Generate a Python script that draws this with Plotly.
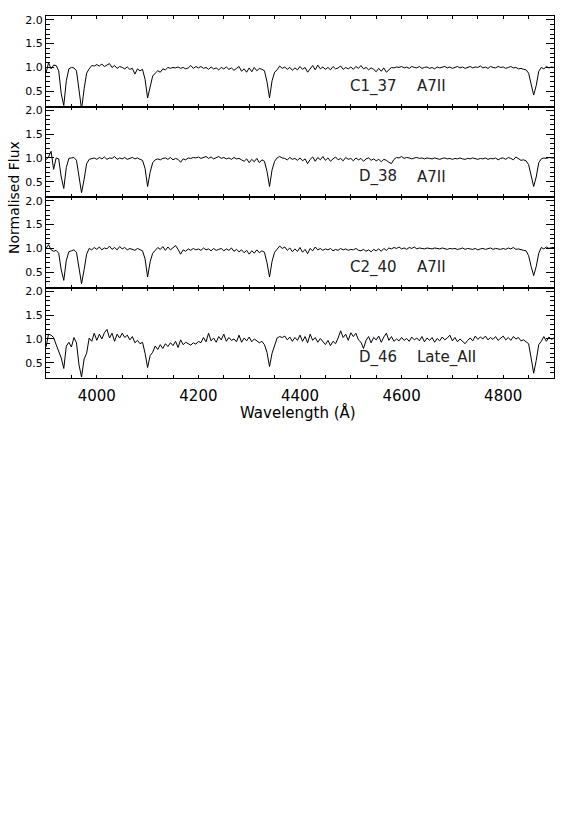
import plotly.graph_objects as go
from plotly.subplots import make_subplots

# wavelength grid (Angstrom), 5 A sampling
WAVE = list(range(3900, 4901, 5))

STARS = ["C1_37", "D_38", "C2_40", "D_46"]
TYPES = ["A7II", "A7II", "A7II", "Late_AII"]

FLUX_C1_37 = [
    0.88, 1.10, 0.97, 1.05, 1.04, 0.93, 0.45, 0.20, 0.72, 0.97,
    1.00, 0.99, 0.93, 0.50, 0.12, 0.55, 0.88, 0.97, 1.04, 1.03,
    1.06, 1.03, 1.07, 1.02, 1.05, 1.08, 1.00, 1.04, 0.98, 1.02,
    1.00, 0.97, 1.01, 0.96, 0.98, 0.86, 0.97, 0.93, 0.96, 0.75,
    0.36, 0.62, 0.82, 0.88, 0.93, 0.90, 0.97, 0.95, 1.00, 0.98,
    1.00, 0.99, 1.01, 0.98, 1.00, 0.97, 0.99, 1.04, 0.98, 1.02,
    0.99, 1.02, 0.98, 1.00, 0.96, 1.01, 0.97, 0.99, 0.95, 1.00,
    0.97, 1.01, 0.96, 0.99, 0.94, 0.98, 1.02, 0.92, 0.97, 0.90,
    0.99, 0.91, 1.00, 0.93, 0.98, 0.96, 0.93, 0.70, 0.36, 0.72,
    0.90, 0.95, 1.03, 0.98, 1.01, 0.96, 1.00, 0.94, 0.99, 0.95,
    1.02, 0.96, 1.00, 0.90, 0.98, 1.04, 0.95, 1.05, 0.97, 1.01,
    0.96, 1.00, 0.95, 1.02, 0.97, 0.99, 1.03, 0.96, 1.00, 0.97,
    1.01, 0.96, 1.02, 0.98, 1.04, 0.97, 1.00, 0.95, 0.99, 0.96,
    0.91, 0.98, 0.92, 0.99, 0.90, 0.96, 1.00, 0.99, 1.01, 1.00,
    1.02, 0.99, 1.01, 0.98, 1.02, 1.00, 0.99, 1.02, 0.98, 1.00,
    1.01, 0.98, 1.00, 0.97, 1.01, 0.99, 1.00, 1.02, 0.99, 1.01,
    0.98, 1.00, 1.02, 0.99, 1.01, 0.98, 1.00, 1.02, 0.99, 1.01,
    1.00, 1.03, 0.99, 1.01, 0.98, 1.02, 1.00, 0.99, 1.02, 1.00,
    1.01, 0.98, 1.00, 1.02, 0.99, 1.00, 0.97, 0.98, 0.96, 0.95,
    0.88, 0.65, 0.42, 0.62, 0.92, 1.00, 0.97, 1.02, 0.99, 1.01,
    1.00,
]

FLUX_D_38 = [
    0.96, 1.02, 1.14, 0.76, 1.00, 0.98, 0.60, 0.36, 0.80, 0.99,
    1.00, 1.01, 0.95, 0.60, 0.27, 0.55, 0.88, 0.97, 0.98, 1.00,
    0.97, 1.01, 0.98, 1.02, 0.97, 1.00, 0.99, 1.03, 0.97, 1.00,
    0.98, 1.01, 0.97, 0.99, 1.01, 0.98, 1.00, 0.97, 0.95, 0.78,
    0.40, 0.70, 0.90, 0.96, 0.98, 0.96, 0.99, 1.00, 0.97, 1.01,
    0.96, 0.99, 0.97, 0.91, 0.98, 0.96, 1.00, 0.99, 1.01, 1.00,
    1.02, 0.99, 1.01, 1.03, 0.99, 1.02, 0.98, 1.01, 1.03, 0.99,
    1.01, 0.98, 1.00, 0.97, 1.01, 0.98, 0.99, 0.96, 0.93, 0.98,
    0.90, 0.97, 0.92, 0.99, 0.90, 0.96, 0.93, 0.72, 0.40, 0.75,
    0.93, 1.00, 1.03, 1.00, 0.99, 0.96, 1.01, 0.97, 0.99, 0.95,
    1.00, 0.94, 0.98, 0.88, 0.97, 1.02, 0.93, 1.01, 0.96, 1.03,
    0.95, 1.00, 0.93, 0.98, 1.02, 0.96, 0.99, 0.94, 1.01, 0.97,
    0.99, 0.94, 1.00, 0.96, 0.99, 0.93, 0.98, 1.00, 0.95, 0.98,
    0.94, 0.97, 0.92, 0.97, 0.95, 0.91, 0.88, 0.97, 1.01, 1.00,
    1.03, 0.99, 1.01, 1.00, 0.98, 1.00, 1.01, 0.99, 1.00, 0.98,
    1.00, 0.99, 0.98, 1.00, 0.99, 0.97, 0.99, 1.00, 0.98, 0.99,
    0.97, 0.99, 0.98, 1.00, 0.98, 0.97, 0.99, 0.98, 1.00, 0.98,
    0.97, 0.99, 0.98, 1.00, 0.97, 0.99, 0.98, 1.00, 0.96, 0.99,
    1.00, 0.97, 1.01, 0.99, 0.96, 1.02, 0.98, 0.95, 0.96, 0.94,
    0.86, 0.62, 0.40, 0.60, 0.90, 0.98, 1.00, 0.99, 1.01, 1.00,
    1.00,
]

FLUX_C2_40 = [
    1.00, 1.08, 0.97, 0.94, 0.96, 0.90, 0.55, 0.33, 0.75, 0.93,
    0.95, 0.97, 0.92, 0.60, 0.26, 0.55, 0.88, 1.00, 0.97, 1.02,
    0.98, 1.03, 0.97, 1.01, 0.99, 1.05, 0.98, 1.02, 0.97, 1.04,
    0.99, 1.02, 0.97, 1.00, 0.98, 0.96, 1.00, 0.98, 0.95, 0.78,
    0.40, 0.72, 0.90, 0.96, 1.02, 0.98, 1.04, 0.96, 1.03, 0.97,
    1.01, 1.06, 0.98, 0.88, 0.97, 0.94, 0.99, 0.96, 1.00, 0.97,
    0.99, 0.96, 1.01, 0.97, 0.99, 0.95, 1.00, 0.96, 0.98, 1.00,
    0.95, 0.99, 0.96, 1.01, 0.94, 0.98, 0.93, 0.97, 0.91, 0.96,
    0.88, 0.95, 0.90, 0.97, 0.91, 0.95, 0.92, 0.70, 0.40, 0.73,
    0.92, 0.99, 1.05, 1.00, 1.03, 0.96, 1.01, 0.93, 0.99, 0.94,
    1.02, 0.92, 0.98, 0.89, 1.00, 0.95, 1.03, 0.97, 1.00, 0.96,
    0.99, 0.97, 1.00, 0.95, 0.98, 0.96, 1.00, 0.97, 0.99, 0.96,
    0.98, 0.97, 1.00, 0.96, 0.95, 0.98, 0.94, 0.97, 0.93, 0.98,
    0.95, 0.99, 0.94, 1.00, 0.96, 1.01, 0.99, 1.02, 1.00, 1.03,
    0.99, 1.01, 0.98, 1.02, 1.00, 1.03, 0.99, 1.01, 1.00, 0.99,
    1.01, 1.00, 0.99, 1.01, 1.00, 0.99, 1.01, 1.00, 0.98, 1.00,
    0.99, 1.00, 0.98, 0.99, 1.01, 0.98, 1.00, 0.99, 0.98, 1.00,
    0.97, 0.99, 1.00, 0.98, 0.99, 1.01, 0.98, 1.00, 0.99, 0.98,
    1.00, 0.98, 1.01, 0.99, 1.02, 0.98, 0.99, 0.97, 0.96, 0.95,
    0.85, 0.62, 0.43, 0.62, 0.90, 1.02, 0.99, 1.03, 1.00, 1.02,
    1.02,
]

FLUX_D_46 = [
    0.83, 1.10, 1.08, 1.03, 0.88, 0.72, 0.60, 0.38, 0.85, 0.93,
    0.83, 1.03, 0.92, 0.45, 0.20, 0.58, 0.70, 1.02, 0.95, 1.12,
    0.97, 1.10, 1.00, 1.13, 1.20, 1.02, 1.12, 0.95, 1.10, 1.02,
    1.12, 1.03, 1.08, 0.98, 1.05, 0.92, 0.97, 0.90, 0.93, 0.70,
    0.40, 0.65, 0.72, 0.85, 0.78, 0.88, 0.80, 0.90, 0.84, 0.92,
    0.86, 0.95, 0.82, 0.98, 0.88, 0.93, 0.90, 0.87, 0.92, 0.89,
    0.95, 0.92, 1.03, 0.94, 1.12, 0.96, 1.02, 0.93, 1.05, 0.98,
    1.10, 0.95, 1.03, 0.97, 1.00, 0.94, 1.08, 0.93, 1.02, 0.96,
    1.04, 0.94, 1.00, 0.95, 0.92, 0.95, 0.88, 0.72, 0.42, 0.70,
    0.88, 1.02, 1.05, 1.03, 1.06, 0.98, 1.04, 0.95, 1.03, 0.97,
    1.08, 0.95, 1.05, 0.92, 1.10, 0.97, 1.03, 0.93, 1.01, 0.94,
    0.88, 0.97, 0.86, 0.95, 0.90, 1.02, 1.17, 1.03, 1.10, 0.97,
    1.13, 1.05, 1.12, 0.98, 0.93, 0.80, 0.97, 1.05, 0.92, 1.03,
    0.98, 1.06, 0.93, 1.04, 1.12, 0.97, 1.05, 0.95, 1.00, 0.96,
    1.03, 0.97, 1.01, 0.95, 1.04, 0.98, 1.02, 0.96, 1.05, 0.94,
    1.02, 0.97, 1.03, 0.93, 1.01, 0.96, 1.04, 0.98, 1.02, 1.08,
    0.96, 1.03, 0.94, 1.00, 0.95, 0.90, 0.97, 1.02, 0.96, 1.06,
    0.99, 1.04, 1.00, 1.06, 0.98, 1.03, 0.99, 1.05, 0.97, 1.02,
    1.06, 0.98, 1.03, 0.97, 1.05, 1.00, 1.03, 0.96, 0.98, 0.94,
    0.90, 0.60, 0.28, 0.55, 0.88, 0.95, 1.05, 0.95, 1.04, 0.99,
    1.02,
]

FLUXES = [FLUX_C1_37, FLUX_D_38, FLUX_C2_40, FLUX_D_46]

FONT = "DejaVu Sans"
Y_RANGE = [0.18, 2.08]

fig = make_subplots(rows=4, cols=1, shared_xaxes=True, vertical_spacing=0)

for i, (flux, star, sptype) in enumerate(zip(FLUXES, STARS, TYPES)):
    row = i + 1
    fig.add_trace(
        go.Scatter(
            x=WAVE,
            y=flux,
            mode="lines",
            line=dict(color="black", width=1),
            showlegend=False,
            hoverinfo="skip",
        ),
        row=row,
        col=1,
    )
    # star name (right aligned) and spectral type (left aligned)
    fig.add_annotation(
        x=4594, y=0.6, text=star, showarrow=False, xanchor="right",
        yanchor="middle", font=dict(family=FONT, size=15, color="#222"),
        row=row, col=1,
    )
    fig.add_annotation(
        x=4626, y=0.6, text=sptype, showarrow=False, xanchor="left",
        yanchor="middle", font=dict(family=FONT, size=15, color="#222"),
        row=row, col=1,
    )
    fig.update_yaxes(
        range=Y_RANGE,
        automargin=False,
        tick0=0,
        dtick=0.5,
        tickformat=".1f",
        ticks="inside",
        ticklen=8,
        tickcolor="black",
        minor=dict(dtick=0.1, ticks="inside", ticklen=4, tickcolor="black"),
        showline=True,
        linecolor="black",
        linewidth=1,
        mirror="ticks",
        showgrid=False,
        zeroline=False,
        tickfont=dict(family=FONT, size=11, color="black"),
        row=row,
        col=1,
    )
    fig.update_xaxes(
        range=[3900, 4900],
        automargin=False,
        tick0=4000,
        dtick=200,
        ticks="inside",
        ticklen=3,
        tickcolor="black",
        minor=dict(dtick=50, ticks="inside", ticklen=3, tickcolor="black"),
        showline=True,
        linecolor="black",
        linewidth=1,
        mirror="ticks",
        showgrid=False,
        zeroline=False,
        tickfont=dict(family=FONT, size=15, color="black"),
        ticklabelstandoff=4,
        row=row,
        col=1,
    )

fig.add_annotation(
    x=-0.063, y=0.5, xref="paper", yref="paper", text="Normalised Flux",
    xanchor="center", yanchor="middle", textangle=-90, showarrow=False,
    font=dict(family=FONT, size=14, color="black"),
)
fig.add_annotation(
    x=0.496, y=-0.094, xref="paper", yref="paper", text="Wavelength (Å)",
    xanchor="center", yanchor="middle", showarrow=False,
    font=dict(family=FONT, size=15, color="black"),
)

fig.update_layout(
    width=566,
    height=822,
    margin=dict(l=46, r=12, t=16, b=444),
    plot_bgcolor="white",
    paper_bgcolor="white",
    showlegend=False,
)

# drop the default page margin so the figure sits at the window's corner
fig.write_html(
    "out.html",
    config={"displayModeBar": False},
    post_script="document.body.style.margin='0px';",
)
